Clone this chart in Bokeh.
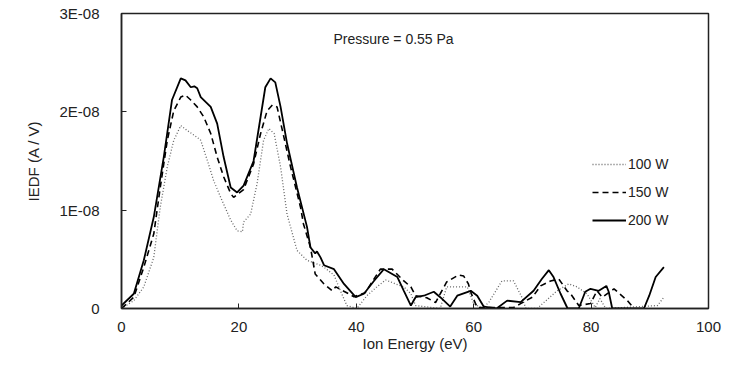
from bokeh.plotting import figure
from bokeh.models import Legend, LegendItem, Label, FixedTicker, Range1d
from bokeh.embed import file_html
from bokeh.resources import INLINE

# Ion energy (eV) and IEDF values in units of 1E-08 A/V
E_100 = [0, 2.1, 3.8, 5.5, 6.6, 7.8, 8.9, 10.1, 11.2, 12.9, 13.5, 14.6, 15.7, 16.9, 18.6, 19.7,
         20.6, 20.8, 22.0, 23.1, 24.2, 25.1, 26.0, 27.1, 28.2, 29.9, 31.6, 33.9, 34.5, 36.2, 37.3,
         38.4, 40.1, 41.8, 43.5, 45.0, 46.7, 48.1, 49.3, 50.1, 54.3, 55.4, 57.2, 58.9, 60.0, 61.5,
         62.6, 64.8, 66.8, 68.2, 68.9, 70.8, 74.2, 76.2, 77.6, 79.3, 80.7, 81.5, 82.5, 91.3, 92.4]
V_100 = [0, 0.08, 0.22, 0.52, 1.03, 1.44, 1.71, 1.86, 1.81, 1.74, 1.71, 1.51, 1.30, 1.13, 0.90, 0.79,
         0.78, 0.88, 0.96, 1.27, 1.71, 1.83, 1.78, 1.44, 0.96, 0.59, 0.49, 0.44, 0.42, 0.34, 0.18,
         0.03, 0.0, 0.13, 0.22, 0.29, 0.25, 0.22, 0.15, 0.03, 0.0, 0.22, 0.22, 0.22, 0.05, 0.0,
         0.065, 0.28, 0.28, 0.115, 0.0, 0.0, 0.18, 0.25, 0.22, 0.15, 0.01, 0.10, 0.0, 0.03, 0.115]

E_150 = [0, 2.1, 3.8, 5.5, 6.6, 7.8, 8.9, 10.1, 10.9, 11.8, 12.9, 14.0, 15.2, 16.3, 17.4, 18.6,
         19.1, 20.8, 22.5, 23.7, 24.8, 25.7, 26.5, 27.3, 28.8, 30.5, 31.0, 32.2, 33.0, 34.5, 35.9,
         36.5, 39.6, 41.5, 44.1, 46.1, 48.1, 49.3, 50.1, 52.0, 53.5, 54.3, 55.4, 57.4, 58.3, 59.1,
         59.6, 60.6, 66.8, 68.0, 70.0, 71.4, 73.1, 74.5, 75.9, 76.5, 77.9, 79.9, 81.0, 81.9, 83.9,
         86.2, 87.3]
V_150 = [0, 0.115, 0.42, 0.76, 1.23, 1.71, 2.01, 2.15, 2.17, 2.12, 2.05, 1.95, 1.78, 1.54, 1.34, 1.17,
         1.13, 1.21, 1.47, 1.78, 2.01, 2.07, 2.05, 1.84, 1.44, 1.03, 0.86, 0.62, 0.35, 0.25, 0.18,
         0.22, 0.12, 0.16, 0.40, 0.40, 0.28, 0.22, 0.13, 0.11, 0.06, 0.15, 0.27, 0.34, 0.33, 0.25,
         0.15, 0.01, 0.01, 0.05, 0.115, 0.23, 0.28, 0.30, 0.18, 0.15, 0.03, 0.05, 0.18, 0.115, 0.20,
         0.08, 0.0]

E_200 = [0, 2.1, 3.8, 5.5, 7.2, 8.6, 10.1, 10.9, 11.8, 12.4, 12.9, 13.5, 15.2, 16.3, 17.4, 18.6,
         19.7, 20.8, 22.5, 23.7, 24.5, 25.4, 26.2, 27.1, 28.2, 29.9, 31.6, 32.2, 33.0, 33.3, 33.9,
         34.5, 36.2, 37.9, 39.9, 41.3, 43.0, 44.7, 47.0, 48.1, 49.3, 50.1, 51.5, 53.2, 54.3, 56.0,
         57.2, 59.5, 60.6, 61.7, 63.9, 65.7, 68.0, 70.2, 71.6, 72.8, 73.6, 74.8, 76.0, 77.9, 79.0,
         79.9, 81.3, 82.6, 83.0, 83.6, 89.0, 89.9, 91.0, 92.4]
V_200 = [0.03, 0.15, 0.49, 0.93, 1.54, 2.12, 2.34, 2.32, 2.25, 2.26, 2.24, 2.15, 2.05, 1.88, 1.54, 1.23,
         1.18, 1.25, 1.5, 1.95, 2.25, 2.34, 2.30, 2.05, 1.68, 1.23, 0.83, 0.62, 0.56, 0.58, 0.52,
         0.44, 0.40, 0.25, 0.115, 0.15, 0.28, 0.40, 0.32, 0.18, 0.03, 0.115, 0.13, 0.17, 0.115, 0.02,
         0.13, 0.18, 0.13, 0.02, 0.0, 0.08, 0.065, 0.18, 0.30, 0.39, 0.32, 0.15, 0.0, 0.0, 0.17,
         0.20, 0.18, 0.23, 0.17, 0.0, 0.0, 0.13, 0.32, 0.42]

X_TICKS = [0, 20, 40, 60, 80, 100]
Y_TICKS = [0, 1, 2, 3]
Y_TICK_LABELS = ["0", "1E-08", "2E-08", "3E-08"]
SERIES_NAMES = ["100 W", "150 W", "200 W"]

FONT = "Liberation Sans"
TXT = "#222222"

p = figure(width=736, height=357, output_backend="svg", toolbar_location=None,
           x_range=Range1d(0, 100), y_range=Range1d(0, 3),
           min_border_left=121, min_border_right=28, min_border_top=13, min_border_bottom=49)

p.xgrid.visible = False
p.ygrid.visible = False
p.outline_line_color = "#222222"
p.outline_line_width = 1.5
p.background_fill_color = "white"
p.border_fill_color = "white"

for ax in (p.xaxis[0], p.yaxis[0]):
    ax.axis_line_color = "#222222"
    ax.axis_line_width = 1.5
    ax.major_tick_line_color = "#222222"
    ax.major_tick_in = 5
    ax.major_tick_out = 0
    ax.minor_tick_line_color = None
    ax.major_label_text_font = FONT
    ax.major_label_text_font_size = "15px"
    ax.major_label_text_color = TXT
    ax.axis_label_text_font = FONT
    ax.axis_label_text_font_size = "15px"
    ax.axis_label_text_font_style = "normal"
    ax.axis_label_text_color = TXT

p.xaxis.ticker = FixedTicker(ticks=X_TICKS)
p.yaxis.ticker = FixedTicker(ticks=Y_TICKS)
p.yaxis.major_label_overrides = {t: l for t, l in zip(Y_TICKS, Y_TICK_LABELS)}
p.xaxis.axis_label = "Ion Energy (eV)"
p.yaxis.axis_label = "IEDF (A / V)"
p.xaxis.major_label_standoff = 13
p.xaxis.axis_label_standoff = 0
p.yaxis.major_label_standoff = 22
p.yaxis.axis_label_standoff = 14

r100 = p.line(E_100, V_100, line_color="#666666", line_width=1.3, line_dash="1 2")
r150 = p.line(E_150, V_150, line_color="black", line_width=1.6, line_dash="6 4")
r200 = p.line(E_200, V_200, line_color="black", line_width=1.8)

legend = Legend(items=[LegendItem(label=SERIES_NAMES[0], renderers=[r100]),
                       LegendItem(label=SERIES_NAMES[1], renderers=[r150]),
                       LegendItem(label=SERIES_NAMES[2], renderers=[r200])],
                location=(471, 78), border_line_color=None, background_fill_alpha=0,
                padding=0, margin=0, spacing=8, glyph_width=34, glyph_height=20,
                label_height=20, label_standoff=2,
                label_text_font=FONT, label_text_font_size="14px", label_text_color=TXT)
p.add_layout(legend)

p.add_layout(Label(x=36.1, y=2.82, text="Pressure = 0.55 Pa", text_baseline="top",
                   text_align="left", text_font=FONT, text_font_size="14px", text_color=TXT))

open("out.html", "w").write(file_html(p, INLINE))
